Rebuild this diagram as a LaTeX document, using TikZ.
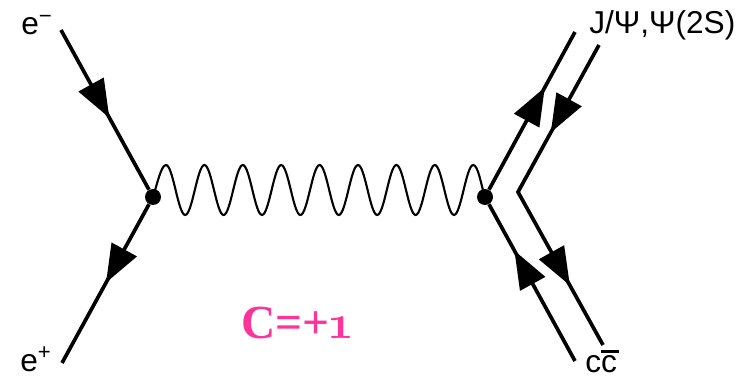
\documentclass[tikz,border=0pt]{standalone}
\usepackage{fontspec}
\usepackage{xcolor}
\usetikzlibrary{arrows.meta,decorations.markings}
\setsansfont{Liberation Sans}
\newfontfamily\pinkserif{Liberation Serif}
\newfontfamily\pinkold[Numbers=OldStyle]{Latin Modern Roman}
\definecolor{chargepink}{RGB}{255, 51, 153}

\begin{document}
\begin{tikzpicture}[
  x=0.02cm, y=-0.02cm,
  vertex/.style={circle, fill=black, inner sep=0pt, minimum size=0.32cm},
  label/.style={font=\sffamily\fontsize{18}{20}\selectfont, inner sep=0pt, anchor=base west},
  charge/.style={font=\pinkserif\bfseries\fontsize{27}{30}\selectfont, text=chargepink, inner sep=0pt},
  fermion/.style={line width=2.1pt},
  midarrow/.style={postaction={decorate, decoration={markings,
    mark=at position #1 with {\arrow{Triangle[length=0.76cm,width=0.56cm]}}}}},
  photon/.style={line width=1.2pt}
]
  \useasboundingbox (0,0) rectangle (744,378);

  \node[vertex] (left) at (153,197) {};
  \node[vertex] (right) at (485,197) {};
  \coordinate (eminus) at (61,30);
  \coordinate (eplus) at (62,363);
  \coordinate (quark) at (575,32);
  \coordinate (antiquark) at (599,45);
  \coordinate (knee) at (518,192);
  \coordinate (ccbar) at (603,345);
  \coordinate (ccbarin) at (575,361);

  \draw[fermion, midarrow=0.55] (eminus) -- (left);
  \draw[fermion, midarrow=0.495] (left) -- (eplus);
  \draw[fermion, midarrow=0.65] (right) -- (quark);
  \draw[fermion, midarrow=0.292, midarrow=0.802] (antiquark) -- (knee) -- (ccbar);
  \draw[fermion, midarrow=0.705] (ccbarin) -- (right);
  \draw[photon] (left.center) .. controls +(4,-12) and +(-5,0) .. ++(13,-32)
    \foreach \n in {1,...,8} {
      .. controls +(7,0) and +(-7,0) .. ++(19.2,50)
      .. controls +(7,0) and +(-7,0) .. ++(19.2,-50)
    }
    .. controls +(5,0) and +(-4,-12) .. (right.center);

  \node[label] (em) at (21,35) {e\textsuperscript{−}};
  \node[label] (ep) at (20,371) {e\textsuperscript{+}};
  \node[label] (psi) at (589,34) {J/Ψ,Ψ(2S)};
  \node[label] (cc) at (585,372) {c\makebox[0pt][l]{\rule[0.59em]{0.55em}{0.09em}}c};
  \node[charge] (cplus) at (297,323) {C=+{\pinkold 1}};
\end{tikzpicture}
\end{document}
